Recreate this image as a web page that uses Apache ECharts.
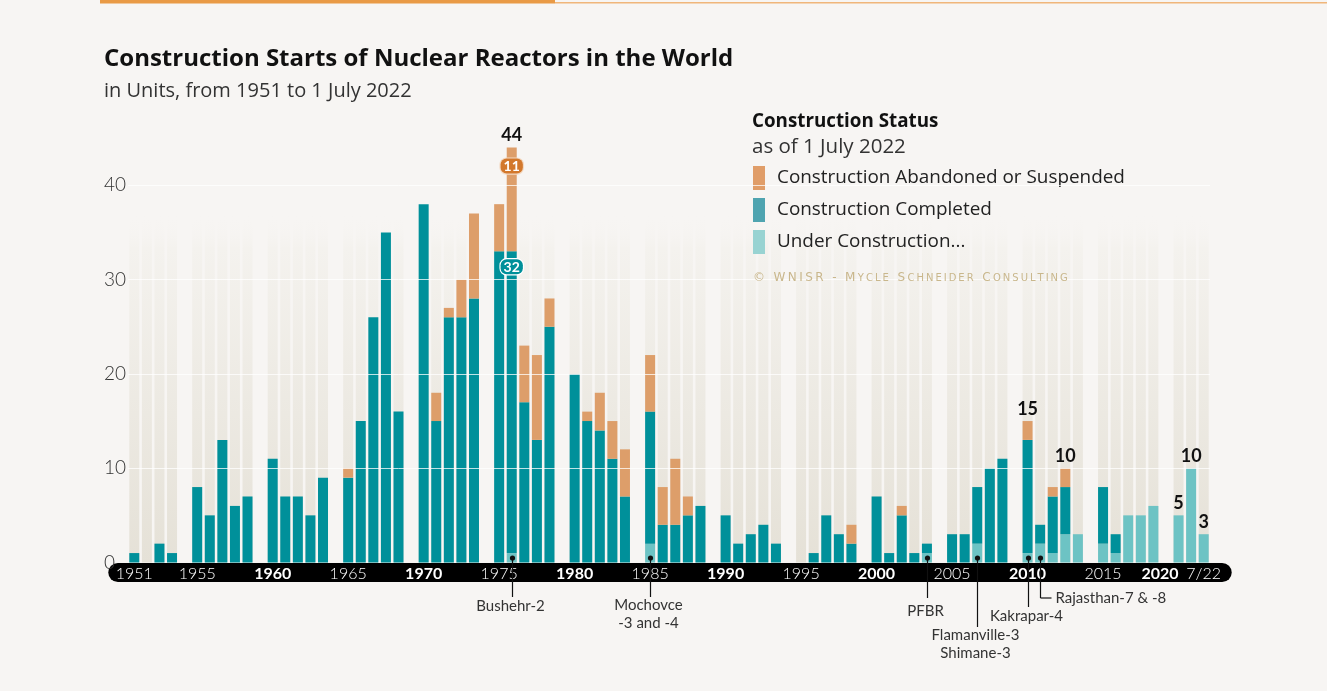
<!DOCTYPE html>
<html>
<head>
<meta charset="utf-8">
<title>Construction Starts of Nuclear Reactors in the World</title>
<script src="https://cdn.jsdelivr.net/npm/echarts@6/dist/echarts.min.js"></script>
<style>
html,body{margin:0;padding:0;background:#f7f5f3;}
#main{width:1327px;height:691px;}
</style>
</head>
<body>
<div id="main"></div>
<script>
// years 1951 .. 2022 (2022 = until 1 July)
var years = ['1951','1952','1953','1954',
  '1955','1956','1957','1958','1959','1960','1961','1962','1963','1964',
  '1965','1966','1967','1968','1969','1970','1971','1972','1973','1974',
  '1975','1976','1977','1978','1979','1980','1981','1982','1983','1984',
  '1985','1986','1987','1988','1989','1990','1991','1992','1993','1994',
  '1995','1996','1997','1998','1999','2000','2001','2002','2003','2004',
  '2005','2006','2007','2008','2009','2010','2011','2012','2013','2014',
  '2015','2016','2017','2018','2019','2020','2021','2022']

// under construction (bottom of the stack)
var underConstr = [0,0,0,0,
  0,0,0,0,0, 0,0,0,0,0,
  0,0,0,0,0, 0,0,0,0,0,
  0,1,0,0,0, 0,0,0,0,0,
  2,0,0,0,0, 0,0,0,0,0,
  0,0,0,0,0, 0,0,0,0,1,
  0,0,2,0,0, 1,2,1,3,3,
  2,1,5,5,6, 5,10,3]

// construction completed
var completed = [1,0,2,1,
  8,5,13,6,7, 11,7,7,5,9,
  9,15,26,35,16, 38,15,26,26,28,
  33,32,17,13,25, 20,15,14,11,7,
  14,4,4,5,6, 5,2,3,4,2,
  0,1,5,3,2, 7,1,5,1,1,
  3,3,6,10,11, 12,2,6,5,0,
  6,2,0,0,0, 0,0,0]

// abandoned or suspended
var abandoned = [0,0,0,0,
  0,0,0,0,0, 0,0,0,0,0,
  1,0,0,0,0, 0,3,1,4,9,
  5,11,6,9,3, 0,1,4,4,5,
  6,4,7,2,0, 0,0,0,0,0,
  0,0,0,0,2, 0,0,1,0,0,
  0,0,0,0,0, 2,0,1,2,0,
  0,0,0,0,0, 0,0,0]

var totalYears = ['1976','2010','2013','2020','2021','2022']

var noteYears = ['1976','1985','2004','2007','2010','2011']
var noteTexts = ['Bushehr-2','Mochovce\n-3 and -4','PFBR','Flamanville-3\nShimane-3','Kakrapar-4','Rajasthan-7 & -8']

var legendNames = ['Construction Abandoned or Suspended','Construction Completed','Under Construction...']

var FONT = 'Lato'
var TFONT = 'Open Sans'

// small caps with spacing for the credit line
function spaced(s) { return s.split('').join('\u2009') }
var credit = spaced('© WNISR - M') + '\u2009{s|' + spaced('YCLE') + '}\u2009 \u2009' + spaced('S') +
  '\u2009{s|' + spaced('CHNEIDER') + '}\u2009 \u2009' + spaced('C') + '\u2009{s|' + spaced('ONSULTING') + '}'

// slots with an empty gap after every 5-year block
var slots = [], sUC = [], sC = [], sA = [], sBg = [], sTot = []
for (var i = 0; i < years.length; i++) {
  var yr = years[i]
  var tot = underConstr[i] + completed[i] + abandoned[i]
  slots.push(yr == '2020' ? {value: yr, textStyle: {align: 'right'}} : yr)
  sUC.push(underConstr[i])
  if (yr == '1976') {
    sC.push({value: completed[i], label: {show: true, position: 'insideTop', distance: 8,
      formatter: '{c}', color: '#fff', fontSize: 14, fontWeight: 'bold', fontFamily: FONT,
      backgroundColor: '#00909a', borderColor: '#fff', borderWidth: 1.2, borderRadius: 6,
      padding: [1, 3, 0, 3], lineHeight: 14}})
    sA.push({value: abandoned[i], label: {show: true, position: 'insideTop', distance: 11,
      formatter: '{c}', color: '#fff', fontSize: 14, fontWeight: 'bold', fontFamily: FONT,
      backgroundColor: '#d3782c', borderColor: '#f3d9c2', borderWidth: 1.2, borderRadius: 6,
      padding: [1, 3, 0, 3], lineHeight: 14}})
  } else {
    sC.push(completed[i])
    sA.push(abandoned[i])
  }
  sBg.push(37)
  if (totalYears.indexOf(yr) >= 0) {
    sTot.push({value: 0, label: {show: true, formatter: String(tot)}})
  } else {
    sTot.push('-')
  }
  if (+yr % 5 == 4 && i < years.length - 1) {
    slots.push('gap' + yr)
    sUC.push('-'); sC.push('-'); sA.push('-'); sBg.push('-'); sTot.push('-')
  }
}

var myChart = echarts.init(document.getElementById('main'))

var option = {
  backgroundColor: '#f7f5f3',
  animation: false,
  title: [
    {text: 'Construction Starts of Nuclear Reactors in the World', left: 104, top: 45, padding: 0,
     textStyle: {fontFamily: TFONT, fontSize: 24, fontWeight: 'bold', color: '#111', lineHeight: 28}},
    {text: 'in Units, from 1951 to 1 July 2022', left: 104, top: 80, padding: 0,
     textStyle: {fontFamily: TFONT, fontSize: 20, fontWeight: 'normal', color: '#333', lineHeight: 22}},
    {text: 'Construction Status', left: 752, top: 111, padding: 0,
     textStyle: {fontFamily: TFONT, fontSize: 18.8, fontWeight: 'bold', color: '#111', lineHeight: 22}},
    {text: 'as of 1 July 2022', left: 752, top: 136, padding: 0,
     textStyle: {fontFamily: TFONT, fontSize: 20.5, fontWeight: 'normal', color: '#333', lineHeight: 22}},
    {text: credit, left: 753, top: 271, padding: 0,
     textStyle: {fontFamily: 'DejaVu Sans', fontSize: 12, fontWeight: 'normal', color: '#c9b78c', lineHeight: 14,
       rich: {s: {fontFamily: 'DejaVu Sans', fontSize: 10, color: '#c9b78c'}}}}
  ],
  legend: {
    orient: 'vertical', left: 753, top: 166, padding: 0,
    itemWidth: 12, itemHeight: 24, itemGap: 8, icon: 'rect',
    textStyle: {fontFamily: TFONT, fontSize: 18.9, color: '#222', padding: [0, 0, 0, 7]},
    data: [
      {name: legendNames[0], itemStyle: {color: '#e09d68'}},
      {name: legendNames[1], itemStyle: {color: '#4fa4b0'}},
      {name: legendNames[2], itemStyle: {color: '#98d3d2'}}
    ]
  },
  grid: {left: 128, width: 1082, top: 91, height: 471.5},
  xAxis: {
    type: 'category',
    data: slots,
    z: 6,
    axisLine: {show: false},
    axisTick: {show: false},
    axisLabel: {
      margin: 3,
      interval: function (index, value) {
        if (value == '1951' || value == '2022') return true
        return /^\d{4}$/.test(value) && (+value) % 5 == 0
      },
      formatter: function (v) {
        if (v == '2022') return '{l|7/22}'
        return ((+v) % 10 == 0 ? '{b|' : '{l|') + v + '}'
      },
      rich: {
        l: {fontFamily: FONT, fontSize: 16, fontWeight: 300, color: '#fff', lineHeight: 16},
        b: {fontFamily: FONT, fontSize: 16, fontWeight: 'bold', color: '#fff', lineHeight: 16}
      }
    }
  },
  yAxis: {
    type: 'value',
    min: 0, max: 50, interval: 10,
    z: 5,
    axisLine: {show: false},
    axisTick: {show: false},
    splitLine: {show: true, showMinLine: false, showMaxLine: false,
      lineStyle: {color: 'rgba(255,255,255,0.75)', width: 1}},
    axisLabel: {
      align: 'left', margin: 24, showMaxLabel: false,
      fontFamily: FONT, fontSize: 19, fontWeight: 300, color: '#333'
    }
  },
  series: [
    {
      name: 'backdrop', type: 'bar', data: sBg, barWidth: 10, barGap: '-100%', silent: true, z: 1,
      itemStyle: {color: new echarts.graphic.LinearGradient(0, 0, 0, 1, [
        {offset: 0, color: 'rgba(247,245,243,0)'},
        {offset: 0.1, color: '#f4f2ee'},
        {offset: 1, color: '#e5e1d7'}
      ])}
    },
    {name: legendNames[2], type: 'bar', stack: 'st', data: sUC, barWidth: 10, barGap: '-100%',
     itemStyle: {color: '#6dc3c4'}},
    {name: legendNames[1], type: 'bar', stack: 'st', data: sC, barWidth: 10, barGap: '-100%',
     itemStyle: {color: '#00909a'}},
    {name: legendNames[0], type: 'bar', stack: 'st', data: sA, barWidth: 10, barGap: '-100%',
     itemStyle: {color: '#dd9e6a'}},
    {name: 'total', type: 'bar', stack: 'st', data: sTot, barWidth: 10, barGap: '-100%', silent: true,
     itemStyle: {color: 'rgba(0,0,0,0)'},
     label: {show: false, position: 'top', distance: 3, fontFamily: FONT, fontSize: 18,
       fontWeight: 'bold', color: '#111'}}
  ]
}

myChart.setOption(option)

// decorations: top rule, black axis pill, reactor notes
var base = myChart.convertToPixel({xAxisIndex: 0, yAxisIndex: 0}, ['1951', 0])
var last = myChart.convertToPixel({xAxisIndex: 0, yAxisIndex: 0}, ['2022', 0])
var y0 = base[1]
var g = [
  {type: 'rect', shape: {x: 100, y: 0, width: 455, height: 3.5}, style: {fill: '#e99a45'}, z: 1},
  {type: 'rect', shape: {x: 555, y: 2, width: 772, height: 1.5}, style: {fill: '#f0b67a'}, z: 1},
  {type: 'rect', shape: {x: base[0] - 26, y: y0 + 0.5, width: last[0] - base[0] + 54, height: 19, r: 9.5},
   style: {fill: '#000'}, z: 3}
]

// line ends and text positions for the notes
var noteEnd = [597, 597, 598, 627, 607, 598]
var noteTop = [597, 596, 602, 626, 607, 589]
for (var k = 0; k < noteYears.length; k++) {
  var p = myChart.convertToPixel({xAxisIndex: 0, yAxisIndex: 0}, [noteYears[k], 0])
  var x = Math.round(p[0]) + 0.5
  g.push({type: 'circle', shape: {cx: x, cy: y0 - 4.5, r: 2.6}, style: {fill: '#111'}, z: 20})
  g.push({type: 'line', shape: {x1: x, y1: y0 - 4.5, x2: x, y2: noteEnd[k]},
    style: {stroke: '#111', lineWidth: 1.2}, z: 20})
  if (noteYears[k] == '2011') {
    g.push({type: 'line', shape: {x1: x, y1: noteEnd[k], x2: x + 11, y2: noteEnd[k]},
      style: {stroke: '#111', lineWidth: 1.2}, z: 20})
    g.push({type: 'text', x: x + 15, y: noteTop[k], z: 20,
      style: {text: noteTexts[k], fill: '#333', font: '15px Lato', lineHeight: 18, align: 'left'}})
  } else {
    g.push({type: 'text', x: x - 2, y: noteTop[k], z: 20,
      style: {text: noteTexts[k], fill: '#333', font: '15px Lato', lineHeight: 18, align: 'center'}})
  }
}
myChart.setOption({graphic: g})
</script>
</body>
</html>
